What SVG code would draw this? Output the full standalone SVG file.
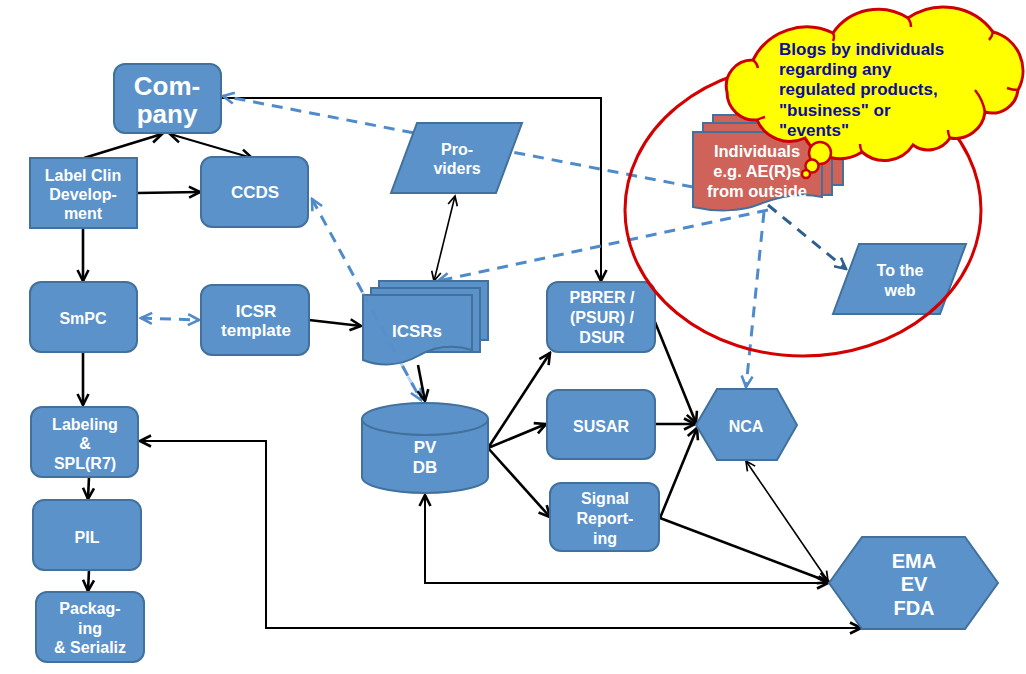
<svg xmlns="http://www.w3.org/2000/svg" width="1026" height="674" viewBox="0 0 1026 674">
<style>
.n{fill:#5B92C9;stroke:#41719C;stroke-width:2}
.t{font-family:"Liberation Sans",Arial,sans-serif;font-weight:bold;fill:#fff;text-anchor:middle;font-size:16px}
.k{fill:none;stroke:#000;stroke-width:2.6}
.kt{fill:none;stroke:#000;stroke-width:1.6}
.d{fill:none;stroke:#4F8BCB;stroke-width:3;stroke-dasharray:11 8}
.dn{fill:none;stroke:#2F5F8F;stroke-width:3;stroke-dasharray:11 8}
.blog{font-family:"Liberation Sans",Arial,sans-serif;font-weight:bold;fill:#0C0CA0;font-size:17px}
</style>
<defs>
<marker id="ak" viewBox="0 0 14 14" refX="12" refY="7" markerWidth="14" markerHeight="14" markerUnits="userSpaceOnUse" orient="auto-start-reverse"><path d="M1,1.5 L12,7 L1,12.5" fill="none" stroke="#000" stroke-width="2.6"/></marker>
<marker id="at" viewBox="0 0 14 14" refX="12" refY="7" markerWidth="12" markerHeight="12" markerUnits="userSpaceOnUse" orient="auto-start-reverse"><path d="M1,1.5 L12,7 L1,12.5" fill="none" stroke="#000" stroke-width="2"/></marker>
<marker id="ab" viewBox="0 0 14 14" refX="12" refY="7" markerWidth="14" markerHeight="14" markerUnits="userSpaceOnUse" orient="auto-start-reverse"><path d="M1,1.5 L12,7 L1,12.5" fill="none" stroke="#4F8BCB" stroke-width="2.6"/></marker>
<marker id="an" viewBox="0 0 14 14" refX="12" refY="7" markerWidth="14" markerHeight="14" markerUnits="userSpaceOnUse" orient="auto-start-reverse"><path d="M1,1.5 L12,7 L1,12.5" fill="none" stroke="#2F5F8F" stroke-width="2.6"/></marker>
</defs>
<rect width="1026" height="674" fill="#fff"/>

<g id="connectors">
<line class="k" x1="84" y1="158" x2="162" y2="134" marker-end="url(#ak)"/>
<line class="k" x1="170" y1="134" x2="252" y2="158" marker-start="url(#ak)" marker-end="url(#ak)" style="stroke-width:2"/>
<line class="k" x1="137" y1="193" x2="200" y2="192" marker-end="url(#ak)"/>
<line class="k" x1="83" y1="228" x2="83" y2="281" marker-end="url(#ak)"/>
<line class="d" x1="141" y1="318" x2="199" y2="320" marker-start="url(#ab)" marker-end="url(#ab)"/>
<line class="k" x1="309" y1="320" x2="361" y2="326" marker-end="url(#ak)"/>
<line class="k" x1="83" y1="352" x2="83" y2="405" marker-end="url(#ak)"/>
<line class="k" x1="89" y1="477" x2="88" y2="499" marker-end="url(#ak)"/>
<line class="k" x1="89" y1="570" x2="88" y2="591" marker-end="url(#ak)"/>
<polyline class="k" points="221,98 601,98 601,281" style="stroke-width:2" marker-end="url(#ak)"/>
<line class="d" x1="693" y1="187" x2="223" y2="96" marker-end="url(#ab)"/>
<line class="d" x1="312" y1="199" x2="421" y2="400" marker-start="url(#ab)" marker-end="url(#ab)"/>
<line class="k" x1="418" y1="365" x2="425" y2="401" marker-end="url(#ak)"/>
<line class="kt" x1="455" y1="196" x2="434" y2="281" marker-start="url(#at)" marker-end="url(#at)"/>
<line class="d" x1="768" y1="210" x2="438" y2="281" marker-end="url(#ab)"/>
<line class="d" x1="764" y1="212" x2="746" y2="387" marker-end="url(#ab)"/>
<line class="dn" x1="768" y1="205" x2="846" y2="269" marker-end="url(#an)"/>
<line class="k" x1="488" y1="448" x2="550" y2="353" marker-end="url(#ak)"/>
<line class="k" x1="488" y1="448" x2="546" y2="424" marker-end="url(#ak)"/>
<line class="k" x1="488" y1="448" x2="550" y2="517" marker-end="url(#ak)"/>
<line class="k" x1="655" y1="322" x2="696" y2="423" marker-end="url(#ak)"/>
<line class="k" x1="655" y1="424" x2="695" y2="424" marker-end="url(#ak)"/>
<line class="k" x1="660" y1="518" x2="697" y2="428" marker-end="url(#ak)"/>
<line class="k" x1="660" y1="518" x2="829" y2="582" marker-end="url(#ak)"/>
<line class="kt" x1="746" y1="461" x2="828" y2="581" marker-start="url(#at)" marker-end="url(#at)"/>
<polyline class="k" points="425,495 425,583 828,583" style="stroke-width:2" marker-start="url(#ak)" marker-end="url(#ak)"/>
<polyline class="k" points="140,441 266,441 266,628 861,628" style="stroke-width:2" marker-start="url(#ak)" marker-end="url(#ak)"/>
</g>

<g id="company"><rect class="n" x="114" y="64" width="107" height="69" rx="11"/>
<text class="t" x="167" y="95" style="font-size:26px">Com-</text><text class="t" x="167" y="123" style="font-size:26px">pany</text></g>

<g id="labelclin"><rect class="n" x="30" y="158" width="107" height="70"/>
<text class="t" x="83" y="181">Label Clin</text><text class="t" x="83" y="200">Develop-</text><text class="t" x="83" y="219">ment</text></g>

<g id="ccds"><rect class="n" x="201" y="157" width="107" height="70" rx="11"/>
<text class="t" x="255" y="198" style="font-size:17px">CCDS</text></g>

<g id="smpc"><rect class="n" x="30" y="282" width="107" height="70" rx="11"/>
<text class="t" x="83" y="324">SmPC</text></g>

<g id="icsrtemplate"><rect class="n" x="201" y="285" width="108" height="70" rx="11"/>
<text class="t" x="256" y="317" style="font-size:17px">ICSR</text><text class="t" x="256" y="336" style="font-size:17px">template</text></g>

<g id="labeling"><rect class="n" x="31" y="407" width="107" height="70" rx="11"/>
<text class="t" x="85" y="430">Labeling</text><text class="t" x="85" y="449">&amp;</text><text class="t" x="85" y="469">SPL(R7)</text></g>

<g id="pil"><rect class="n" x="33" y="500" width="108" height="70" rx="11"/>
<text class="t" x="87" y="543">PIL</text></g>

<g id="packaging"><rect class="n" x="36" y="592" width="108" height="70" rx="11"/>
<text class="t" x="90" y="614">Packag-</text><text class="t" x="90" y="634">ing</text><text class="t" x="90" y="653">&amp; Serializ</text></g>

<g id="providers"><polygon class="n" points="417,123 522,123 496,193 391,193"/>
<text class="t" x="457" y="155">Pro-</text><text class="t" x="457" y="174">viders</text></g>

<g id="icsrs">
<rect class="n" x="379" y="281" width="109" height="59"/>
<rect class="n" x="371" y="288" width="109" height="64"/>
<path class="n" d="M363,295 H472 V350 C452,344 435,346 418,356 C400,366 380,367 363,360 Z"/>
<line x1="363" y1="293" x2="418" y2="395" stroke="#4F8BCB" stroke-width="3" stroke-dasharray="11 8" opacity="0.35"/>
<text class="t" x="417" y="337" style="font-size:17px">ICSRs</text></g>

<g id="pvdb"><path class="n" d="M362,419 A63,16 0 0 1 488,419 V477 A63,16 0 0 1 362,477 Z"/>
<path d="M362,419 A63,16 0 0 0 488,419" fill="none" stroke="#41719C" stroke-width="2"/>
<text class="t" x="425" y="453" style="font-size:17px">PV</text><text class="t" x="425" y="473" style="font-size:17px">DB</text></g>

<g id="pbrer"><rect class="n" x="547" y="282" width="108" height="70" rx="11"/>
<text class="t" x="602" y="303">PBRER /</text><text class="t" x="602" y="323">(PSUR) /</text><text class="t" x="602" y="343">DSUR</text></g>

<g id="susar"><rect class="n" x="547" y="390" width="108" height="69" rx="11"/>
<text class="t" x="601" y="432">SUSAR</text></g>

<g id="signal"><rect class="n" x="550" y="483" width="109" height="68" rx="11"/>
<text class="t" x="605" y="504">Signal</text><text class="t" x="605" y="524">Report-</text><text class="t" x="605" y="544">ing</text></g>

<g id="nca"><polygon class="n" points="696,425 717,389 777,389 797,425 777,460 717,460"/>
<text class="t" x="746" y="432">NCA</text></g>

<g id="ema"><polygon class="n" points="829,583 862,537 965,537 998,583 965,629 862,629"/>
<text class="t" x="914" y="568" style="font-size:20px">EMA</text><text class="t" x="914" y="591" style="font-size:20px">EV</text><text class="t" x="914" y="615" style="font-size:20px">FDA</text></g>

<g id="toweb"><polygon class="n" points="859,244 966,244 940,314 833,314"/>
<text class="t" x="900" y="276">To the</text><text class="t" x="900" y="296">web</text></g>

<g id="circle"><ellipse cx="803" cy="210" rx="178" ry="146" fill="none" stroke="#D40000" stroke-width="3"/></g>

<g id="individuals">
<rect x="713" y="115" width="130" height="70" fill="#CF6259" stroke="#41719C" stroke-width="2"/>
<rect x="703" y="123" width="129" height="72" fill="#CF6259" stroke="#41719C" stroke-width="2"/>
<path d="M693,132 H822 V197 C800,192 780,196 760,204 C740,212 715,212 693,207 Z" fill="#CF6259" stroke="#41719C" stroke-width="2"/>
<text class="t" x="757" y="157" style="font-size:16.5px">Individuals</text>
<text class="t" x="757" y="177" style="font-size:16.5px">e.g. AE(R)s</text>
<text class="t" x="757" y="197" style="font-size:16.5px">from outside</text></g>

<g id="blog">
<path d="M727,92 A26,26 0 0 1 753,60 A60,60 0 0 1 833,33 A55,55 0 0 1 908,18 A62,62 0 0 1 993,32 A40,40 0 0 1 1018,90 A26,26 0 0 1 985,112 A30,30 0 0 1 950,138 A26,26 0 0 1 913,145 A34,34 0 0 1 862,152 A40,40 0 0 1 805,138 A36,36 0 0 1 757,120 A28,28 0 0 1 727,92 Z" fill="#FFFF00" stroke="#CC0000" stroke-width="3"/>
<path d="M753,60 q4,3 5,8 M833,33 q2,4 0,8 M908,18 q3,4 3,9 M993,32 q-1,5 -4,8 M1018,90 q-6,0 -11,-2 M985,112 q-2,-12 -10,-22 M950,138 q-2,-4 -2,-8 M862,152 q-2,-4 -2,-8 M757,120 q4,-2 8,-3" fill="none" stroke="#CC0000" stroke-width="2.5"/>
<circle cx="820" cy="153" r="11" fill="#FFFF00" stroke="#CC0000" stroke-width="2.5"/>
<circle cx="812" cy="166" r="6.5" fill="#FFFF00" stroke="#CC0000" stroke-width="2.5"/>
<circle cx="806" cy="174" r="4" fill="#FFFF00" stroke="#CC0000" stroke-width="2.5"/>
<text class="blog" x="779" y="55">Blogs by individuals</text>
<text class="blog" x="779" y="75">regarding any</text>
<text class="blog" x="779" y="95">regulated products,</text>
<text class="blog" x="779" y="116">"business" or</text>
<text class="blog" x="779" y="136">"events"</text>
</g>
</svg>
